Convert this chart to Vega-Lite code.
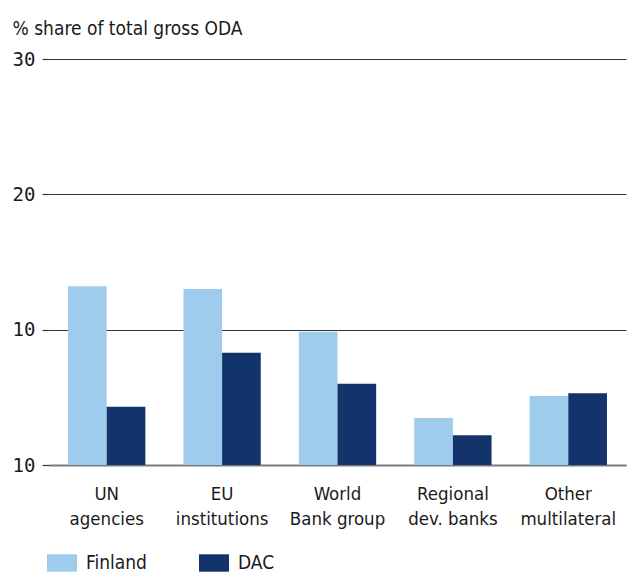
{
  "$schema": "https://vega.github.io/schema/vega-lite/v6.json",
  "width": 577,
  "height": 406,
  "autosize": {"type": "none"},
  "padding": {"left": 49, "top": 59, "right": 1, "bottom": 109},
  "background": "white",
  "config": {"view": {"stroke": null}, "font": "DejaVu Sans Condensed, Roboto, sans-serif"},
  "data": {
    "values": [
      {"category": "UN|agencies", "series": "Finland", "value": 13.2},
      {"category": "UN|agencies", "series": "DAC", "value": 4.3},
      {"category": "EU|institutions", "series": "Finland", "value": 13.0},
      {"category": "EU|institutions", "series": "DAC", "value": 8.3},
      {"category": "World|Bank group", "series": "Finland", "value": 9.85},
      {"category": "World|Bank group", "series": "DAC", "value": 6.0},
      {"category": "Regional|dev. banks", "series": "Finland", "value": 3.47},
      {"category": "Regional|dev. banks", "series": "DAC", "value": 2.2},
      {"category": "Other|multilateral", "series": "Finland", "value": 5.1},
      {"category": "Other|multilateral", "series": "DAC", "value": 5.3}
    ]
  },
  "mark": {"type": "bar"},
  "encoding": {
    "x": {
      "field": "category",
      "type": "nominal",
      "sort": null,
      "scale": {"paddingInner": 0.33, "paddingOuter": 0.165},
      "axis": {
        "title": null,
        "labelAngle": 0,
        "labelExpr": "split(datum.label, '|')",
        "labelFontSize": 18.5,
        "labelLineHeight": 25,
        "labelColor": "#1a1a1a",
        "labelPadding": 19,
        "ticks": false,
        "domainColor": "#7a7a7a",
        "domainWidth": 2,
        "labelFont": "DejaVu Sans Condensed, Roboto, sans-serif"
      }
    },
    "xOffset": {"field": "series", "type": "nominal", "sort": ["Finland", "DAC"], "scale": {"paddingInner": 0}},
    "y": {
      "field": "value",
      "type": "quantitative",
      "scale": {"domain": [0, 30], "nice": false},
      "axis": {
        "values": [0, 10, 20, 30],
        "labelExpr": "datum.value == 0 ? '10' : datum.label",
        "domain": false,
        "gridColor": "#333333",
        "gridWidth": 1.2,
        "tickColor": "#333333",
        "tickWidth": 1.2,
        "tickSize": 7,
        "labelPadding": 7,
        "labelFont": "DejaVu Sans Mono",
        "labelFontSize": 19,
        "labelColor": "#1a1a1a",
        "title": "% share of total gross ODA",
        "titleAngle": 0,
        "titleAlign": "left",
        "titleBaseline": "alphabetic",
        "titleX": -37,
        "titleY": -25,
        "titleFont": "DejaVu Sans Condensed, Roboto, sans-serif",
        "titleFontSize": 19,
        "titleFontWeight": "normal",
        "titleColor": "#1a1a1a"
      }
    },
    "color": {
      "field": "series",
      "type": "nominal",
      "sort": ["Finland", "DAC"],
      "scale": {"domain": ["Finland", "DAC"], "range": ["#9fcbed", "#12336b"]},
      "legend": {
        "title": null,
        "orient": "none",
        "legendX": -2,
        "legendY": 489,
        "direction": "horizontal",
        "symbolType": "M-1,-0.58H1V0.58H-1Z",
        "symbolSize": 900,
        "symbolStrokeWidth": 0,
        "symbolOpacity": 1,
        "labelFontSize": 19,
        "labelFont": "DejaVu Sans Condensed, Roboto, sans-serif",
        "labelColor": "#1a1a1a",
        "labelOffset": 9,
        "columnPadding": 52
      }
    }
  }
}
